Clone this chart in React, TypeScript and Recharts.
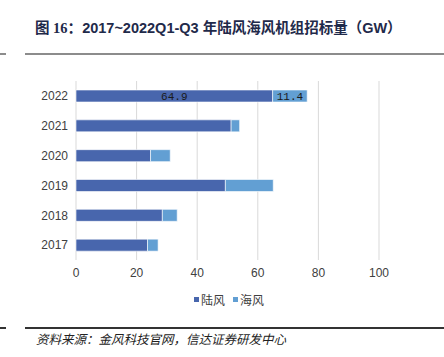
import React from 'react';
import { BarChart, Bar, XAxis, YAxis, CartesianGrid, LabelList } from 'recharts';

const years = ['2022', '2021', '2020', '2019', '2018', '2017'];
const onshore = [64.9, 51.2, 24.6, 49.3, 28.5, 23.6];
const offshore = [11.4, 2.8, 6.5, 15.8, 4.9, 3.5];
const xTicks = [0, 20, 40, 60, 80, 100];
const labelledYear = '2022';
const seriesNames = ['陆风', '海风'];
const seriesColors = ['#4866ad', '#629fd3'];

const data = years.map((y, i) => ({ year: y, onshore: onshore[i], offshore: offshore[i] }));

const cjk = '"Liberation Sans", "Noto Sans CJK SC", sans-serif';
const labelStyle = { fontSize: 11, fill: '#1a1a1a', fontFamily: '"Liberation Mono", monospace' };

const App: React.FC = () => {
  const labelFor = (key: 'onshore' | 'offshore') => (entry: any) =>
    entry && entry.payload && entry.payload.year === labelledYear ? entry.payload[key].toFixed(1) : '';

  return (
    <div style={{ position: 'absolute', left: 0, top: 0, width: 444, height: 357, background: '#fff', fontFamily: cjk }}>
      <div style={{ position: 'absolute', left: 35, top: 16, fontSize: 14.5, fontWeight: 700, color: '#1f2a4a', whiteSpace: 'nowrap' }}>
        <span style={{ fontFamily: '"Liberation Serif", "Noto Sans CJK SC", serif' }}>图 16：</span>
        2017~2022Q1-Q3 年陆风海风机组招标量（GW）
      </div>
      <div style={{ position: 'absolute', left: 0, top: 53, width: 6, height: 2, background: '#8c8c8c' }} />
      <div style={{ position: 'absolute', left: 25, top: 53, width: 419, height: 2, background: '#8c8c8c' }} />

      <div style={{ position: 'absolute', left: 0, top: 0 }}>
        <BarChart
          width={444}
          height={357}
          data={data}
          layout="vertical"
          margin={{ top: 81, right: 65, left: 26, bottom: 77 }}
          barSize={12}
        >
          <CartesianGrid horizontal={false} stroke="#d9d9d9" />
          <XAxis
            type="number"
            domain={[0, 100]}
            ticks={xTicks}
            axisLine={false}
            tickLine={false}
            height={20}
            tick={{ fontSize: 12, fill: '#404040', fontFamily: '"Liberation Sans", sans-serif' }}
          />
          <YAxis
            type="category"
            dataKey="year"
            width={50}
            axisLine={false}
            tickLine={false}
            tick={{ fontSize: 12, fill: '#404040', fontFamily: '"Liberation Sans", sans-serif' }}
          />
          <Bar dataKey="onshore" name={seriesNames[0]} stackId="a" fill={seriesColors[0]} stroke="#ffffff" strokeWidth={0.6} isAnimationActive={false}>
            <LabelList position="center" valueAccessor={labelFor('onshore')} style={labelStyle} />
          </Bar>
          <Bar dataKey="offshore" name={seriesNames[1]} stackId="a" fill={seriesColors[1]} stroke="#ffffff" strokeWidth={0.6} isAnimationActive={false}>
            <LabelList position="center" valueAccessor={labelFor('offshore')} style={labelStyle} />
          </Bar>
        </BarChart>
      </div>

      <div style={{ position: 'absolute', left: 0, top: 291, width: 444, display: 'flex', justifyContent: 'center', fontSize: 12, color: '#404040', fontFamily: '"Noto Sans CJK SC", sans-serif' }}>
        {seriesNames.map((n, i) => (
          <span key={n} style={{ display: 'inline-flex', alignItems: 'center', marginLeft: i ? 8 : 14 }}>
            <span style={{ width: 5, height: 5, background: seriesColors[i], marginRight: 2 }} />
            {n}
          </span>
        ))}
      </div>

      <div style={{ position: 'absolute', left: 0, top: 327, width: 6, height: 1.5, background: '#333' }} />
      <div style={{ position: 'absolute', left: 25, top: 327, width: 419, height: 1.5, background: '#333' }} />
      <div style={{ position: 'absolute', left: 36, top: 329, fontSize: 12.5, fontStyle: 'italic', color: '#222', fontFamily: '"Noto Sans CJK SC", sans-serif', whiteSpace: 'nowrap' }}>
        资料来源：金风科技官网，信达证券研发中心
      </div>
    </div>
  );
};

export default App;
